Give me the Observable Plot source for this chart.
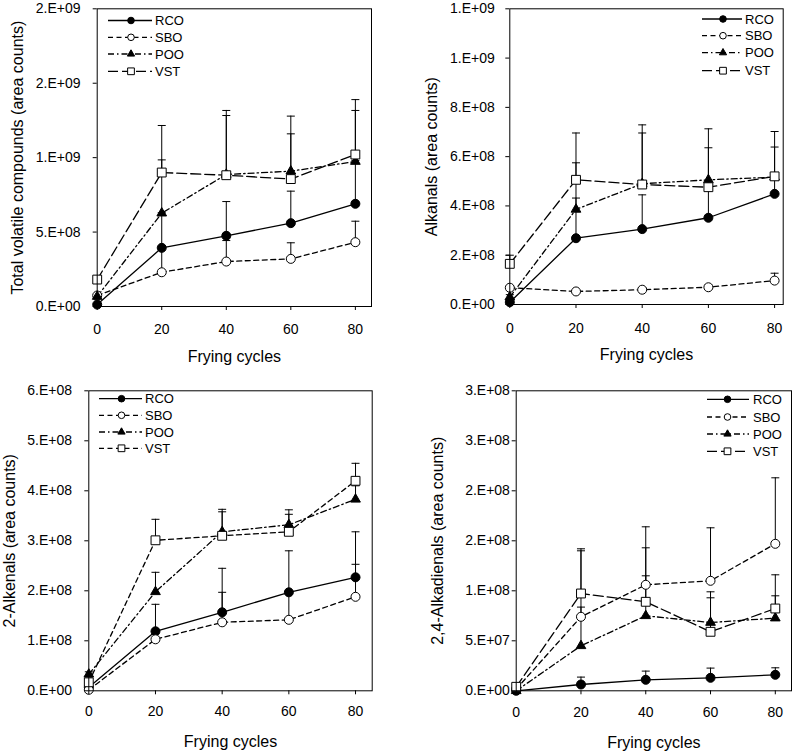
<!DOCTYPE html>
<html><head><meta charset="utf-8">
<script src="https://cdn.jsdelivr.net/npm/d3@7"></script>
<script src="https://cdn.jsdelivr.net/npm/@observablehq/plot@0.6"></script>
<style>
body{margin:0;background:#fff;}
#fig{position:relative;width:793px;height:752px;font-family:"Liberation Sans",Arial,sans-serif;}
.panel{position:absolute;}
#legend{position:absolute;left:0;top:0;pointer-events:none;}
</style></head><body><div id="fig"></div>
<script>
const cycles = [0, 20, 40, 60, 80];
const oils = ["RCO", "SBO", "POO", "VST"];

// Panel A: Total volatile compounds (means, SD)
const totRCO = [1.3e7, 3.94e8, 4.75e8, 5.6e8, 6.9e8];
const totRCOsd = [0.5e7, 2.36e8, 2.3e8, 2.15e8, 2.9e8];
const totSBO = [7.4e7, 2.3e8, 3.02e8, 3.2e8, 4.32e8];
const totSBOsd = [0.5e7, 1.64e8, 1.41e8, 1.08e8, 1.41e8];
const totPOO = [6.7e7, 6.27e8, 8.87e8, 9.09e8, 9.74e8];
const totPOOsd = [1e7, 3.58e8, 3.96e8, 3.7e8, 3.43e8];
const totVST = [1.81e8, 9.0e8, 8.82e8, 8.56e8, 1.021e9];
const totVSTsd = [1e7, 3.16e8, 4.35e8, 3.04e8, 3.69e8];
const totTicks = [0, 5e8, 1e9, 1.5e9, 2e9];
const totTickLabels = ["0.E+00", "5.E+08", "1.E+09", "2.E+09", "2.E+09"];

// Panel B: Alkanals
const alkRCO = [9.5e6, 2.69e8, 3.06e8, 3.52e8, 4.49e8];
const alkRCOsd = [5e6, 1.63e8, 1.39e8, 1.24e8, 0.71e8];
const alkSBO = [6.8e7, 5.3e7, 6.0e7, 7.0e7, 9.7e7];
const alkSBOsd = [5e6, 5e6, 8e6, 8e6, 3.0e7];
const alkPOO = [3.0e7, 3.86e8, 4.9e8, 5.06e8, 5.17e8];
const alkPOOsd = [1e7, 1.89e8, 2.39e8, 2.07e8, 1.85e8];
const alkVST = [1.65e8, 5.06e8, 4.87e8, 4.76e8, 5.2e8];
const alkVSTsd = [3.5e7, 1.9e8, 2.09e8, 1.6e8, 1.19e8];
const alkTicks = [0, 2e8, 4e8, 6e8, 8e8, 1e9, 1.2e9];
const alkTickLabels = ["0.E+00", "2.E+08", "4.E+08", "6.E+08", "8.E+08", "1.E+09", "1.E+09"];

// Panel C: 2-Alkenals
const enRCO = [7e6, 1.19e8, 1.57e8, 1.97e8, 2.27e8];
const enRCOsd = [3e6, 0.54e8, 0.88e8, 0.83e8, 0.91e8];
const enSBO = [2e6, 1.03e8, 1.37e8, 1.42e8, 1.88e8];
const enSBOsd = [2e6, 0.16e8, 0.6e8, 0.55e8, 0.65e8];
const enPOO = [3.3e7, 1.98e8, 3.18e8, 3.32e8, 3.83e8];
const enPOOsd = [5e6, 0.39e8, 0.4e8, 0.3e8, 0.27e8];
const enVST = [1.7e7, 3.01e8, 3.1e8, 3.18e8, 4.2e8];
const enVSTsd = [5e6, 0.42e8, 0.53e8, 0.35e8, 0.35e8];
const enTicks = [0, 1e8, 2e8, 3e8, 4e8, 5e8, 6e8];
const enTickLabels = ["0.E+00", "1.E+08", "2.E+08", "3.E+08", "4.E+08", "5.E+08", "6.E+08"];

// Panel D: 2,4-Alkadienals
const dienRCO = [0, 6.3e6, 1.1e7, 1.3e7, 1.6e7];
const dienRCOsd = [0, 7.4e6, 8.7e6, 9.7e6, 7e6];
const dienSBO = [1.7e6, 7.4e7, 1.06e8, 1.1e8, 1.47e8];
const dienSBOsd = [1e6, 6.6e7, 5.8e7, 5.3e7, 6.6e7];
const dienPOO = [0, 4.5e7, 7.5e7, 6.83e7, 7.27e7];
const dienPOOsd = [0, 3.87e7, 4.0e7, 3.07e7, 2.23e7];
const dienVST = [4e6, 9.73e7, 8.9e7, 5.9e7, 8.23e7];
const dienVSTsd = [1e6, 4.47e7, 5.4e7, 3.4e7, 3.37e7];
const dienTicks = [0, 5e7, 1e8, 1.5e8, 2e8, 2.5e8, 3e8];
const dienTickLabels = ["0.E+00", "5.E+07", "1.E+08", "2.E+08", "2.E+08", "3.E+08", "3.E+08"];

const SHORT = "5,3.5", DASHDOT = "6,3,1.5,3", LONG = "10,4";
const styles = {
  RCO: {symbol: "circle", fill: "black", r: 4.5, lr: 3.3, dash: null},
  SBO: {symbol: "circle", fill: "white", r: 4.5, lr: 3.3, dash: SHORT},
  POO: {symbol: "triangle", fill: "black", r: 3.6, lr: 2.7, dash: DASHDOT},
  VST: {symbol: "square", fill: "white", r: 5, lr: 3.8, dash: LONG}
};

const capSymbol = {draw(ctx) { ctx.moveTo(-4, 0); ctx.lineTo(4, 0); }};

const panels = [
  {left: 0, top: 0, width: 396, height: 372, ml: 96.7, mr: 25, mt: 8.3, mb: 66, xMax: 85,
   yDomain: [0, 2e9], ticks: totTicks, labels: totTickLabels, tickPad: 12.7, xPad: 13.3, lOff: 85.7, xlOff: 55,
   ylabel: "Total volatile compounds (area counts)",
   mean: {RCO: totRCO, SBO: totSBO, POO: totPOO, VST: totVST},
   sd: {RCO: totRCOsd, SBO: totSBOsd, POO: totPOOsd, VST: totVSTsd}, vstDash: LONG,
   leg: {x1: 108, x2: 152, xm: 131, xt: 155, ys: [20.5, 37.3, 54, 71.3]}},
  {left: 395, top: 0, width: 398, height: 372, ml: 114.3, mr: 10.3, mt: 8.3, mb: 68, xMax: 82.6,
   yDomain: [0, 1.2e9], ticks: alkTicks, labels: alkTickLabels, tickPad: 11, xPad: 14.7, lOff: 84.3, xlOff: 55,
   ylabel: "Alkanals (area counts)",
   mean: {RCO: alkRCO, SBO: alkSBO, POO: alkPOO, VST: alkVST},
   sd: {RCO: alkRCOsd, SBO: alkSBOsd, POO: alkPOOsd, VST: alkVSTsd}, vstDash: LONG,
   leg: {x1: 702, x2: 742, xm: 723, xt: 745, ys: [19, 35.7, 52.7, 70.7]}},
  {left: 0, top: 372, width: 396, height: 380, ml: 88.3, mr: 24.3, mt: 18.3, mb: 61.7, xMax: 85,
   yDomain: [0, 6e8], ticks: enTicks, labels: enTickLabels, tickPad: 12.7, xPad: 11, lOff: 85.3, xlOff: 56,
   ylabel: "2-Alkenals (area counts)",
   mean: {RCO: enRCO, SBO: enSBO, POO: enPOO, VST: enVST},
   sd: {RCO: enRCOsd, SBO: enSBOsd, POO: enPOOsd, VST: enVSTsd}, vstDash: SHORT,
   leg: {x1: 99, x2: 142, xm: 121.5, xt: 145, ys: [398.7, 415.3, 432, 448.3]}},
  {left: 395, top: 372, width: 398, height: 380, ml: 120.7, mr: 2, mt: 18.3, mb: 61.7, xMax: 85,
   yDomain: [0, 3e8], ticks: dienTicks, labels: dienTickLabels, tickPad: 2.3, xPad: 12, lOff: 85, xlOff: 57,
   ylabel: "2,4-Alkadienals (area counts)",
   mean: {RCO: dienRCO, SBO: dienSBO, POO: dienPOO, VST: dienVST},
   sd: {RCO: dienRCOsd, SBO: dienSBOsd, POO: dienPOOsd, VST: dienVSTsd}, vstDash: LONG,
   leg: {x1: 707, x2: 749, xm: 727.5, xt: 753, ys: [399.3, 417, 434, 451.3]}}
];

const fig = document.getElementById("fig");

for (const p of panels) {
  const rows = oils.flatMap(o => cycles.map((c, i) => ({
    oil: o, cycle: c, value: p.mean[o][i], top: p.mean[o][i] + p.sd[o][i]
  })));
  const dashOf = o => (o === "VST" ? p.vstDash : styles[o].dash);
  const marks = [
    Plot.ruleX(rows, {x: "cycle", y1: "value", y2: "top", stroke: "black", strokeWidth: 1}),
    Plot.dot(rows, {x: "cycle", y: "top", symbol: capSymbol, stroke: "black", strokeWidth: 1, fill: "none", r: 3})
  ];
  for (const o of oils) {
    marks.push(Plot.line(rows.filter(d => d.oil === o), {
      x: "cycle", y: "value", stroke: "black", strokeWidth: 1.3,
      strokeDasharray: dashOf(o) || undefined
    }));
  }
  for (const o of oils) {
    const s = styles[o];
    marks.push(Plot.dot(rows.filter(d => d.oil === o), {
      x: "cycle", y: "value", symbol: s.symbol, r: s.r, fill: s.fill, stroke: "black", strokeWidth: 1
    }));
  }
  marks.push(Plot.frame({stroke: "black", strokeWidth: 1}));
  marks.push(Plot.axisX({ticks: cycles, tickSize: 4, tickPadding: p.xPad, tickFormat: d => String(d),
    label: "Frying cycles", labelAnchor: "center", labelArrow: "none", labelOffset: p.xlOff, fontSize: 14}));
  marks.push(Plot.axisY({ticks: p.ticks, tickSize: 4, tickPadding: p.tickPad,
    tickFormat: d => p.labels[p.ticks.indexOf(d)],
    label: p.ylabel, labelAnchor: "center", labelArrow: "none", labelOffset: p.lOff, fontSize: 14}));

  const chart = Plot.plot({
    width: p.width, height: p.height,
    marginLeft: p.ml, marginRight: p.mr, marginTop: p.mt, marginBottom: p.mb,
    x: {domain: [0, p.xMax]},
    y: {domain: p.yDomain},
    style: {background: "transparent", color: "black", fontFamily: "Liberation Sans, Arial, sans-serif", fontSize: "14px"},
    marks
  });
  const wrap = document.createElement("div");
  wrap.className = "panel";
  wrap.style.left = p.left + "px";
  wrap.style.top = p.top + "px";
  wrap.appendChild(chart);
  fig.appendChild(wrap);
  d3.select(chart).selectAll("g[aria-label='x-axis label'] text, g[aria-label='y-axis label'] text")
    .style("font-size", "16px");
}

// Legends
const lsvg = d3.select(fig).append("svg").attr("id", "legend").attr("width", 793).attr("height", 752);
const symMap = {circle: d3.symbolCircle, triangle: d3.symbolTriangle, square: d3.symbolSquare};
for (const p of panels) {
  const L = p.leg;
  oils.forEach((o, i) => {
    const s = styles[o];
    const y = L.ys[i];
    const dash = o === "VST" ? p.vstDash : s.dash;
    lsvg.append("line").attr("x1", L.x1).attr("x2", L.x2).attr("y1", y).attr("y2", y)
      .attr("stroke", "black").attr("stroke-width", 1.3).attr("stroke-dasharray", dash || null);
    lsvg.append("path").attr("transform", `translate(${L.xm},${y})`)
      .attr("d", d3.symbol(symMap[s.symbol], Math.PI * s.lr * s.lr)())
      .attr("fill", s.fill).attr("stroke", "black").attr("stroke-width", 1);
    lsvg.append("text").attr("x", L.xt).attr("y", y).attr("dy", "0.36em")
      .attr("font-size", 13).attr("font-family", "Liberation Sans, Arial, sans-serif")
      .attr("fill", "black").text(o);
  });
}
</script></body></html>
